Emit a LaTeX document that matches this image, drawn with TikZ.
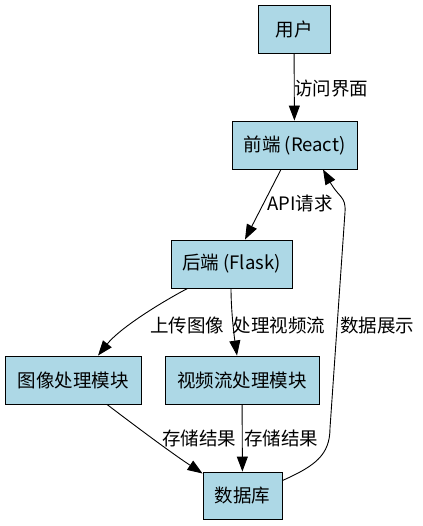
\documentclass[tikz,border=0pt]{standalone}
\usepackage{fontspec}
\setmainfont{Noto Sans CJK SC}
\usepackage{xcolor}
\usepackage{tikz}
\usetikzlibrary{calc,arrows.meta}
\definecolor{boxfill}{HTML}{ADD8E6}
\definecolor{ink}{HTML}{000000}
\tikzset{
  box/.style={draw=ink, fill=boxfill, line width=0.9pt, inner sep=0pt, font=\fontsize{18.5}{22}\selectfont},
  edge/.style={draw=ink, line width=0.9pt, -{Triangle[length=15pt,width=11pt]}},
  lab/.style={text=ink, inner sep=0pt, font=\fontsize{18.5}{22}\selectfont},
}

\begin{document}
\begin{tikzpicture}[x=1pt, y=-1pt]
  \useasboundingbox (0,0) rectangle (422,526);

  \node[box, minimum width=72pt, minimum height=48pt] (user) at (294,29) {用户};
  \node[box, minimum width=125pt, minimum height=48pt] (react) at (294.5,145) {前端 (React)};
  \node[box, minimum width=121pt, minimum height=48pt] (flask) at (231.5,264) {后端 (Flask)};
  \node[box, minimum width=136pt, minimum height=48pt] (img) at (73,380) {图像处理模块};
  \node[box, minimum width=154pt, minimum height=48pt] (video) at (242,380) {视频流处理模块};
  \node[box, minimum width=79pt, minimum height=47pt] (db) at (242.5,495.5) {数据库};

  % user -> frontend
  \draw[edge] (user) -- (react);
  \node[lab] at (331,89) {访问界面};

  % frontend -> backend
  \draw[edge] ($(react.south)+(-13.5,0)$) -- ($(flask.north)+(13.5,0)$);
  \node[lab] at (300,203) {API请求};

  % backend -> modules
  \draw[edge] ($(flask.south west)+(17,0)$) .. controls (160,303) and (120,328) .. ($(img.north)+(25,0)$);
  \node[lab] at (187,325) {上传图像};
  \draw[edge] ($(flask.south)+(-0.5,0)$) .. controls (231,310) and (234,335) .. ($(video.north)+(-5,0)$);
  \node[lab] at (279,325) {处理视频流};

  % modules -> database
  \draw[edge] ($(img.south)+(34,0)$) .. controls (130,422) and (170,452) .. ($(db.west)+(0,-22)$);
  \node[lab] at (199,438) {存储结果};
  \draw[edge] (video) -- (db);
  \node[lab] at (281,438) {存储结果};

  % database -> frontend
  \draw[edge] ($(db.east)+(0,-15)$) .. controls (315,466) and (330,455) .. (330,428)
    -- (345,212) .. controls (346,196) and (339,198) .. ($(react.south)+(28.5,0)$);
  \node[lab] at (377,325) {数据展示};
\end{tikzpicture}
\end{document}
